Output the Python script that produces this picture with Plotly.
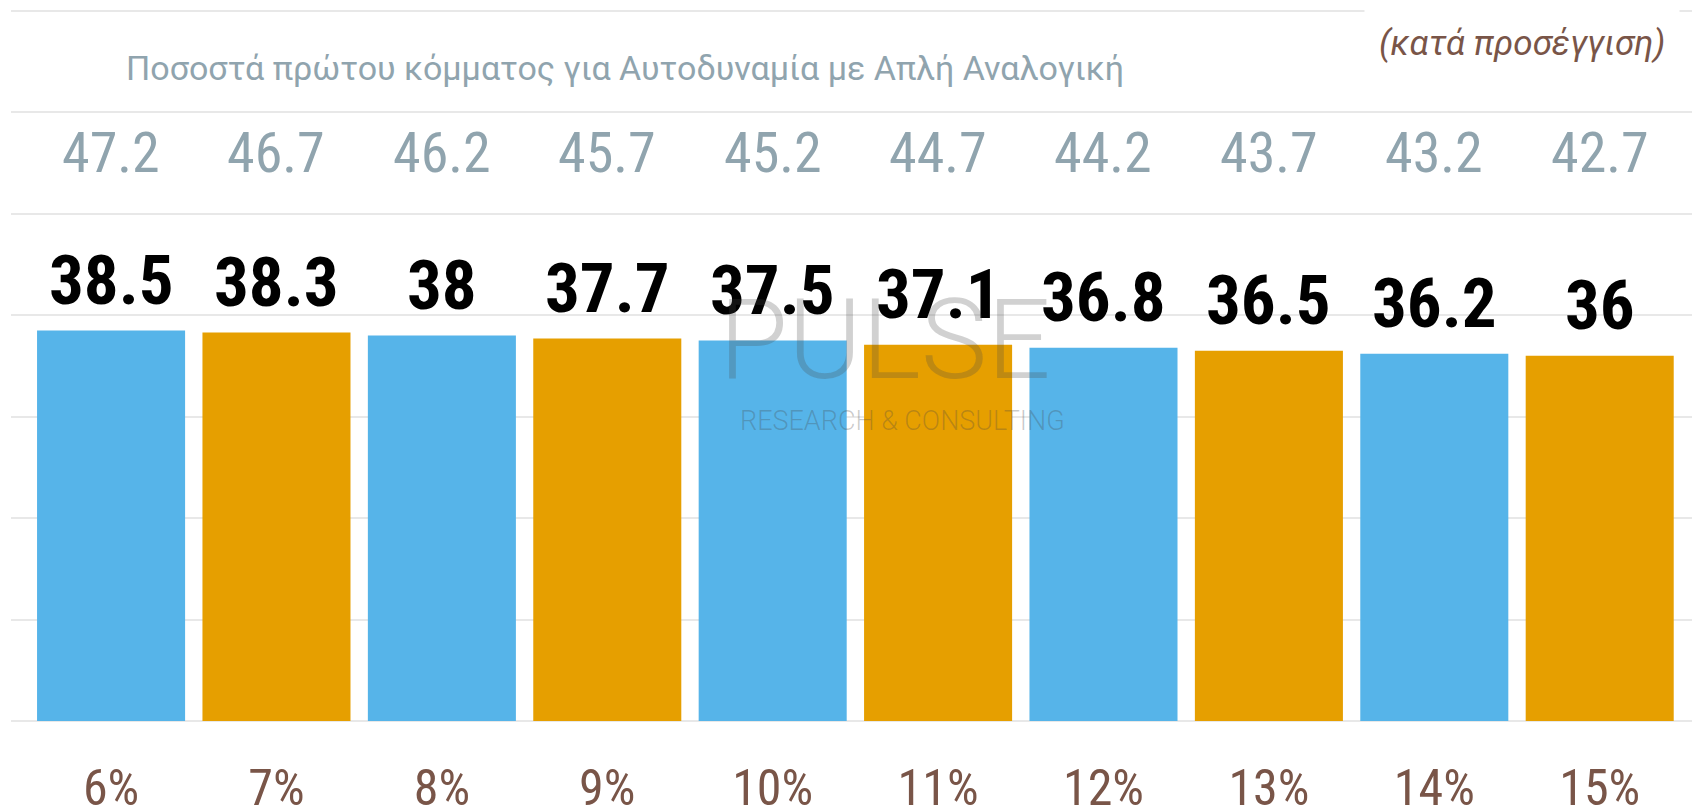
import plotly.graph_objects as go

# ---- data ----
thresholds = ["6%", "7%", "8%", "9%", "10%", "11%", "12%", "13%", "14%", "15%"]
first_party_pct = [38.5, 38.3, 38.0, 37.7, 37.5, 37.1, 36.8, 36.5, 36.2, 36.0]
needed_for_majority = [47.2, 46.7, 46.2, 45.7, 45.2, 44.7, 44.2, 43.7, 43.2, 42.7]
bar_colors = ["#56B4E9", "#E69F00"]

title_text = "Ποσοστά πρώτου κόμματος για Αυτοδυναμία με Απλή Αναλογική"
note_text = "(κατά προσέγγιση)"

COND = "Roboto Condensed, Liberation Sans Narrow, Roboto, sans-serif"
GREY = "#90A4AE"
BROWN = "#795548"

xs = list(range(len(thresholds)))
colors = [bar_colors[i % 2] for i in xs]

fig = go.Figure()
fig.add_trace(go.Bar(
    x=xs, y=first_party_pct, marker=dict(color=colors, line=dict(width=0)),
    width=0.895, hoverinfo="skip", showlegend=False,
))

annotations = []
for i, v in enumerate(first_party_pct):
    annotations.append(dict(x=i, y=v, xref="x", yref="y", text=f"{v:g}",
                            showarrow=False, yanchor="middle", yshift=50,
                            font=dict(family=COND, size=69, color="#000000", weight="bold")))
for i, v in enumerate(needed_for_majority):
    annotations.append(dict(x=i, y=56.0, xref="x", yref="y", text=f"{v:g}",
                            showarrow=False, yanchor="middle",
                            font=dict(family=COND, size=56, color=GREY)))
annotations.append(dict(x=0.0672, y=64.4, xref="paper", yref="y", text=title_text,
                        showarrow=False, xanchor="left", yanchor="middle",
                        font=dict(family="Roboto", size=34, color=GREY)))
annotations.append(dict(x=0.9929, y=66.8, xref="paper", yref="y", text=note_text,
                        showarrow=False, xanchor="right", yanchor="middle",
                        bgcolor="white", borderpad=14,
                        font=dict(family="Roboto", size=35, color=BROWN, style="italic")))
# watermark
annotations.append(dict(x=0.52, y=37.6, xref="paper", yref="y", text="PULSE", showarrow=False,
                        font=dict(family="Roboto", size=112, color="rgba(70,70,70,0.25)", weight=300)))
annotations.append(dict(x=0.5306, y=29.6, xref="paper", yref="y", text="RESEARCH & CONSULTING",
                        showarrow=False,
                        font=dict(family="Roboto", size=27, color="rgba(70,70,70,0.28)", weight=300)))
fig.update_layout(annotations=annotations)

fig.update_layout(
    width=1692, height=812,
    margin=dict(l=11, r=0, t=0, b=91, pad=0),
    paper_bgcolor="white", plot_bgcolor="white",
    bargap=0.105,
    xaxis=dict(range=[-0.605, 9.558], tickmode="array", tickvals=xs, ticktext=thresholds,
               showgrid=False, zeroline=False, showline=False, ticks="", automargin=False,
               tickfont=dict(family=COND, size=50, color=BROWN), ticklabelstandoff=33),
    yaxis=dict(range=[0, 71.08], dtick=10, showgrid=True, gridcolor="#E8E8E8", gridwidth=1.5,
               zeroline=True, zerolinecolor="#E8E8E8", zerolinewidth=1.5, automargin=False,
               showticklabels=False, ticks=""),
)

fig.write_html("out.html", config={"displayModeBar": False},
               post_script="document.body.style.margin='0';document.body.style.overflow='hidden';")
